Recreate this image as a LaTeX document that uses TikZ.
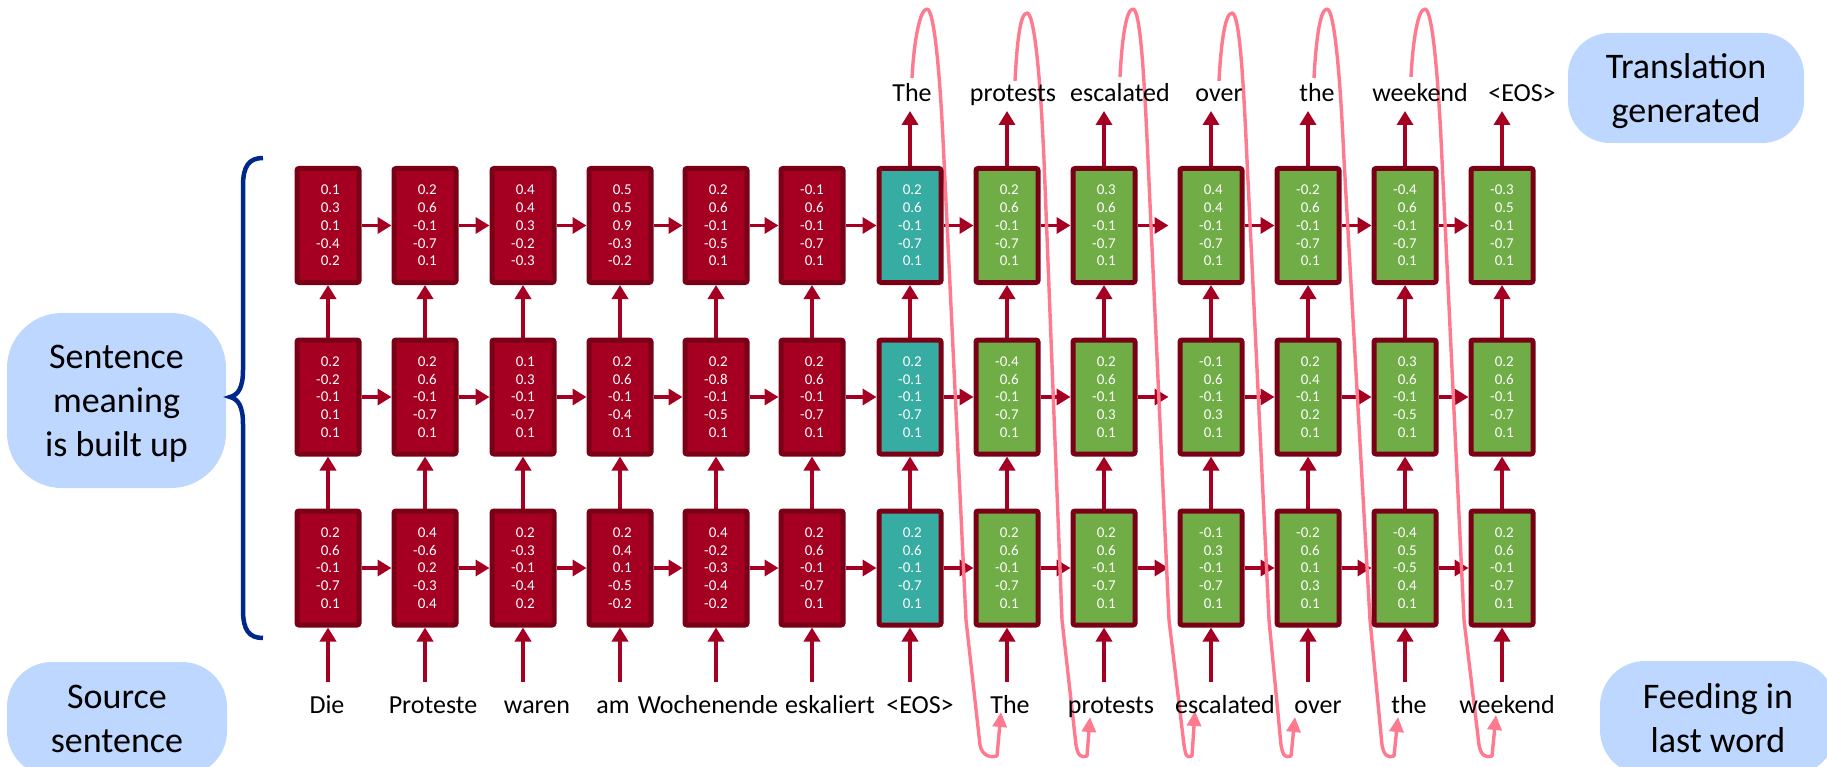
\documentclass[tikz,border=0pt]{standalone}
\usepackage{fontspec}
\setmainfont{Carlito}
\usetikzlibrary{arrows.meta,backgrounds}
\definecolor{cred}{RGB}{165,0,33}
\definecolor{cborder}{RGB}{122,0,22}
\definecolor{carrow}{RGB}{165,0,33}
\definecolor{cteal}{RGB}{54,172,163}
\definecolor{cgreen}{RGB}{112,173,71}
\definecolor{cblue}{RGB}{189,215,254}
\definecolor{cpink}{RGB}{255,122,142}
\definecolor{cbrace}{RGB}{0,40,140}
\tikzset{
  cell/.style={draw=cborder, line width=5pt, rounded corners=2pt, minimum width=62pt, minimum height=114pt,
    inner sep=0pt, align=right, text=white, font=\fontsize{15}{17.7}\selectfont},
  encbox/.style={cell, fill=cred},
  eosbox/.style={cell, fill=cteal},
  decbox/.style={cell, fill=cgreen},
  arr/.style={draw=carrow, line width=3.5pt, -{Triangle[length=14pt,width=16pt]}},
  pinkarr/.style={draw=cpink, line width=3.4pt, line join=round, -{Triangle[length=15pt,width=14pt]}},
  word/.style={anchor=base, inner sep=0pt, font=\fontsize{26}{30}\selectfont},
  callout/.style={fill=cblue, align=center, inner sep=0pt, text depth=0pt, font=\fontsize{36}{44}\selectfont},
  bracestyle/.style={draw=cbrace, line width=4.5pt}
}
\begin{document}
\begin{tikzpicture}[x=1pt,y=-1pt]
\useasboundingbox (0,0) rectangle (1827,767);
\clip (0,0) rectangle (1827,767);

% callouts
\node[callout, rounded corners=55pt, minimum width=219pt, minimum height=175pt] (sm) at (116.5,400.5) {Sentence\\meaning\\is built up};
\node[callout, rounded corners=42pt, minimum width=236pt, minimum height=110pt] (tg) at (1686,88) {Translation\\generated};
\node[callout, rounded corners=45pt, minimum width=220pt, minimum height=114pt] (ss) at (117,719) {Source\\sentence};
\node[callout, rounded corners=45pt, minimum width=236pt, minimum height=114pt] (fl) at (1718,718) {Feeding in\\last word};

% brace
\draw[bracestyle] (263,158) .. controls (249,158) and (243,166) .. (243,186) -- (243,370)
  .. controls (243,388) and (238,395) .. (230,397) .. controls (238,399) and (243,406) .. (243,424)
  -- (243,610) .. controls (243,630) and (249,638) .. (263,638);

% row 1 (top)
\node[encbox] (b-1-1) at (328,225.5) {0.1\\0.3\\0.1\\-0.4\\0.2};
\node[encbox] (b-1-2) at (425,225.5) {0.2\\0.6\\-0.1\\-0.7\\0.1};
\node[encbox] (b-1-3) at (523,225.5) {0.4\\0.4\\0.3\\-0.2\\-0.3};
\node[encbox] (b-1-4) at (620,225.5) {0.5\\0.5\\0.9\\-0.3\\-0.2};
\node[encbox] (b-1-5) at (716,225.5) {0.2\\0.6\\-0.1\\-0.5\\0.1};
\node[encbox] (b-1-6) at (812,225.5) {-0.1\\0.6\\-0.1\\-0.7\\0.1};
\node[eosbox] (b-1-7) at (910,225.5) {0.2\\0.6\\-0.1\\-0.7\\0.1};
\node[decbox] (b-1-8) at (1007,225.5) {0.2\\0.6\\-0.1\\-0.7\\0.1};
\node[decbox] (b-1-9) at (1104,225.5) {0.3\\0.6\\-0.1\\-0.7\\0.1};
\node[decbox] (b-1-10) at (1211,225.5) {0.4\\0.4\\-0.1\\-0.7\\0.1};
\node[decbox] (b-1-11) at (1308,225.5) {-0.2\\0.6\\-0.1\\-0.7\\0.1};
\node[decbox] (b-1-12) at (1405,225.5) {-0.4\\0.6\\-0.1\\-0.7\\0.1};
\node[decbox] (b-1-13) at (1502,225.5) {-0.3\\0.5\\-0.1\\-0.7\\0.1};
% row 2
\node[encbox] (b-2-1) at (328,397) {0.2\\-0.2\\-0.1\\0.1\\0.1};
\node[encbox] (b-2-2) at (425,397) {0.2\\0.6\\-0.1\\-0.7\\0.1};
\node[encbox] (b-2-3) at (523,397) {0.1\\0.3\\-0.1\\-0.7\\0.1};
\node[encbox] (b-2-4) at (620,397) {0.2\\0.6\\-0.1\\-0.4\\0.1};
\node[encbox] (b-2-5) at (716,397) {0.2\\-0.8\\-0.1\\-0.5\\0.1};
\node[encbox] (b-2-6) at (812,397) {0.2\\0.6\\-0.1\\-0.7\\0.1};
\node[eosbox] (b-2-7) at (910,397) {0.2\\-0.1\\-0.1\\-0.7\\0.1};
\node[decbox] (b-2-8) at (1007,397) {-0.4\\0.6\\-0.1\\-0.7\\0.1};
\node[decbox] (b-2-9) at (1104,397) {0.2\\0.6\\-0.1\\0.3\\0.1};
\node[decbox] (b-2-10) at (1211,397) {-0.1\\0.6\\-0.1\\0.3\\0.1};
\node[decbox] (b-2-11) at (1308,397) {0.2\\0.4\\-0.1\\0.2\\0.1};
\node[decbox] (b-2-12) at (1405,397) {0.3\\0.6\\-0.1\\-0.5\\0.1};
\node[decbox] (b-2-13) at (1502,397) {0.2\\0.6\\-0.1\\-0.7\\0.1};
% row 3
\node[encbox] (b-3-1) at (328,568) {0.2\\0.6\\-0.1\\-0.7\\0.1};
\node[encbox] (b-3-2) at (425,568) {0.4\\-0.6\\0.2\\-0.3\\0.4};
\node[encbox] (b-3-3) at (523,568) {0.2\\-0.3\\-0.1\\-0.4\\0.2};
\node[encbox] (b-3-4) at (620,568) {0.2\\0.4\\0.1\\-0.5\\-0.2};
\node[encbox] (b-3-5) at (716,568) {0.4\\-0.2\\-0.3\\-0.4\\-0.2};
\node[encbox] (b-3-6) at (812,568) {0.2\\0.6\\-0.1\\-0.7\\0.1};
\node[eosbox] (b-3-7) at (910,568) {0.2\\0.6\\-0.1\\-0.7\\0.1};
\node[decbox] (b-3-8) at (1007,568) {0.2\\0.6\\-0.1\\-0.7\\0.1};
\node[decbox] (b-3-9) at (1104,568) {0.2\\0.6\\-0.1\\-0.7\\0.1};
\node[decbox] (b-3-10) at (1211,568) {-0.1\\0.3\\-0.1\\-0.7\\0.1};
\node[decbox] (b-3-11) at (1308,568) {-0.2\\0.6\\0.1\\0.3\\0.1};
\node[decbox] (b-3-12) at (1405,568) {-0.4\\0.5\\-0.5\\0.4\\0.1};
\node[decbox] (b-3-13) at (1502,568) {0.2\\0.6\\-0.1\\-0.7\\0.1};

% input / output end points
\foreach \c/\x in {1/328,2/425,3/523,4/620,5/716,6/812,7/910,8/1007,9/1104,10/1211,11/1308,12/1405,13/1502}{
  \coordinate (in-\c) at (\x,682);
  \coordinate (out-\c) at (\x,111);
}

% source words (bottom)
\node[word] (bw-1) at (327,713) {Die};
\node[word] (bw-2) at (433,713) {Proteste};
\node[word] (bw-3) at (537,713) {waren};
\node[word] (bw-4) at (613,713) {am};
\node[word] (bw-5) at (708,713) {Wochenende};
\node[word] (bw-6) at (830,713) {eskaliert};
\node[word] (bw-7) at (920,713) {<EOS>};
\node[word] (bw-8) at (1010,713) {The};
\node[word] (bw-9) at (1111,713) {protests};
\node[word] (bw-10) at (1225,713) {escalated};
\node[word] (bw-11) at (1318,713) {over};
\node[word] (bw-12) at (1409,713) {the};
\node[word] (bw-13) at (1507,713) {weekend};
% generated words (top)
\node[word] (tw-7) at (912,102) {The};
\node[word] (tw-8) at (1013,102) {protests};
\node[word] (tw-9) at (1120,102) {escalated};
\node[word] (tw-10) at (1219,102) {over};
\node[word] (tw-11) at (1317,102) {the};
\node[word] (tw-12) at (1420,102) {weekend};
\node[word] (tw-13) at (1522,102) {<EOS>};

\begin{pgfonlayer}{background}
% horizontal arrows
\foreach \r in {1,2,3}{
  \foreach \c [evaluate=\c as \nx using int(\c+1)] in {1,2,3,4,5,6,7,8,10,11,12}{
    \draw[arr] (b-\r-\c.east) -- (b-\r-\nx.west);
  }
  \draw[arr] (b-\r-9.east) -- ([xshift=-9pt]b-\r-10.west);
}
% vertical arrows
\foreach \c in {1,...,13}{
  \draw[arr] (b-3-\c.north) -- (b-2-\c.south);
  \draw[arr] (b-2-\c.north) -- (b-1-\c.south);
  \draw[arr] (in-\c) -- (b-3-\c.south);
}
\foreach \c in {7,...,13}{
  \draw[arr] (b-1-\c.north) -- (out-\c);
}
% feeding-back loops
\foreach \k/\sx/\sy/\px/\py/\xa/\xb/\xc/\ux/\tx/\ty in {
  1/912/78/927/9/944/966/980/997/1001/712,
  2/1015/81/1027/13/1044/1062/1076/1087/1090/717,
  3/1120/77/1133/9/1148/1169/1184/1192/1195/711,
  4/1219/81/1232/13/1247/1269/1281/1291/1295/717,
  5/1314/78/1327/9/1344/1370/1382/1394/1398/717,
  6/1411/77/1425/9/1442/1464/1479/1492/1496/715}{
  \coordinate (ps-\k) at (\sx,\sy);
  \coordinate (pt-\k) at (\tx,\ty);
  \draw[pinkarr] (ps-\k) .. controls (\sx+2,\sy-38) and (\px-7,\py) .. (\px,\py)
    .. controls (\px+7,\py) and (\xa-4,70) .. (\xa,160) -- (\xb,620) -- (\xc,745)
    .. controls (\xc+2,756) and (\ux-6,758) .. (\ux,756) -- (pt-\k);
}
\end{pgfonlayer}
\end{tikzpicture}
\end{document}
